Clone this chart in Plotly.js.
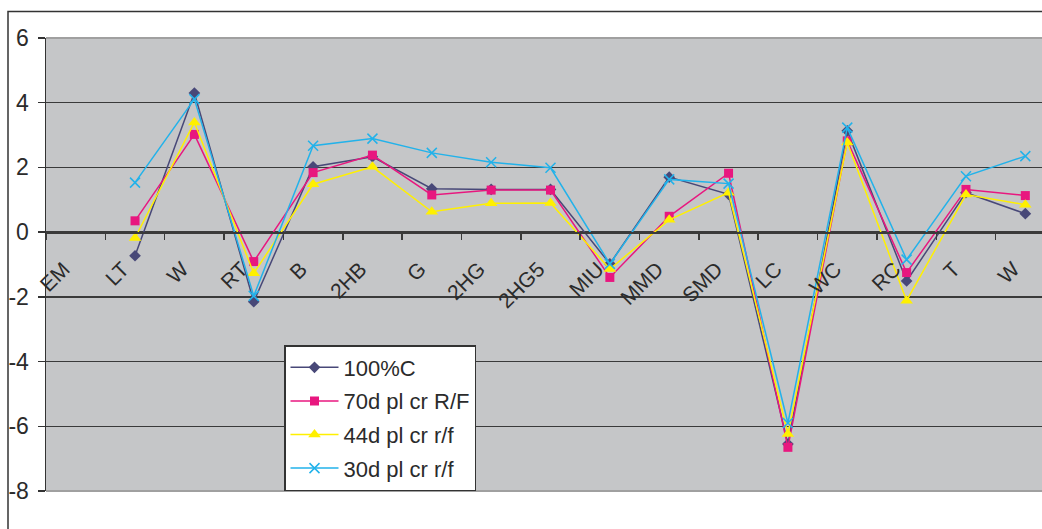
<!DOCTYPE html>
<html>
<head>
<meta charset="utf-8">
<script src="https://cdn.plot.ly/plotly-3.0.1.min.js"></script>
<style>
  html, body { margin: 0; padding: 0; background: #fff; overflow: hidden; }
  #chart { width: 1070px; height: 560px; }
</style>
</head>
<body>
<div id="chart"></div>
<script>
// Category labels along the x axis (W appears twice, so positions are used as keys)
const categories = ['EM', 'LT', 'W', 'RT', 'B', '2HB', 'G', '2HG', '2HG5', 'MIU', 'MMD', 'SMD', 'LC', 'WC', 'RC', 'T', 'W'];
const positions = categories.map((_, i) => i);

// Series values (EM has no reading)
const seriesNames = ['100%C', '70d pl cr R/F', '44d pl cr r/f', '30d pl cr r/f'];
const c100 = [null, -0.73, 4.30, -2.15, 2.02, 2.33, 1.34, 1.32, 1.32, -0.98, 1.70, 1.17, -6.55, 3.13, -1.51, 1.22, 0.57];
const d70  = [null,  0.35, 3.02, -0.91, 1.84, 2.38, 1.15, 1.30, 1.30, -1.40, 0.49, 1.82, -6.65, 2.82, -1.25, 1.32, 1.13];
const d44  = [null, -0.18, 3.39, -1.27, 1.48, 2.02, 0.63, 0.89, 0.90, -1.14, 0.38, 1.22, -6.24, 2.77, -2.12, 1.16, 0.85];
const d30  = [null,  1.53, 4.11, -1.97, 2.67, 2.89, 2.45, 2.16, 1.99, -0.98, 1.63, 1.50, -5.90, 3.23, -0.85, 1.73, 2.35];

// Y tick values and their printed labels
const yTicks = [-8, -6, -4, -2, 0, 2, 4, 6];
const yTickText = ['-8', '-6', '-4', '-2', '0', '2', '4', '6'];

const FONT = 'Liberation Sans, Arial, sans-serif';
const INK = '#2b2b2b';

const styles = [
  { color: '#484878', symbol: 'diamond', size: 9 },
  { color: '#e8177f', symbol: 'square', size: 9 },
  { color: '#fff000', symbol: 'triangle-up', size: 11 },
  { color: '#22b2ea', symbol: 'x-thin-open', size: 10 }
];
const values = [c100, d70, d44, d30];

const traces = values.map((v, i) => ({
  type: 'scatter',
  mode: 'lines+markers',
  name: seriesNames[i],
  legendgroup: 'g' + i,
  x: positions,
  y: v,
  connectgaps: false,
  line: { color: styles[i].color, width: 1.5 },
  marker: {
    symbol: styles[i].symbol,
    size: styles[i].size,
    color: styles[i].color,
    line: { color: styles[i].color, width: styles[i].symbol === 'x-thin-open' ? 1.5 : 0 }
  }
}));

// Plot area geometry in pixels
const L = 46, T = 38, PW = 1009, PH = 453;
const px = x => (x - L) / PW;
const py = y => (T + PH - y) / PH;

const layout = {
  width: 1070,
  height: 560,
  margin: { l: L, r: 1070 - L - PW, t: T, b: 560 - T - PH },
  paper_bgcolor: '#ffffff',
  plot_bgcolor: '#c5c6c8',
  font: { family: FONT, color: INK, size: 22 },
  showlegend: true,
  legend: {
    x: px(284), y: py(345), xanchor: 'left', yanchor: 'top',
    bgcolor: '#ffffff', bordercolor: '#333333', borderwidth: 1.5,
    font: { family: FONT, size: 22, color: INK },
    traceorder: 'grouped', tracegroupgap: 2,
    itemwidth: 48
  },
  xaxis: {
    type: 'category',
    range: [-0.5, 16.5],
    tickmode: 'array',
    tickvals: positions,
    ticktext: categories,
    tickson: 'boundaries',
    anchor: 'free',
    position: 8 / 14,
    showline: true, linecolor: '#3a3a3a', linewidth: 1.5,
    ticks: 'outside', ticklen: 6, tickcolor: '#3a3a3a', tickwidth: 1.5,
    showgrid: false, zeroline: false,
    tickangle: -45,
    ticklabelstandoff: 15,
    ticklabelshift: -12,
    tickfont: { family: FONT, size: 21, color: INK }
  },
  yaxis: {
    range: [-8, 6],
    tickmode: 'array',
    tickvals: yTicks,
    ticktext: yTickText,
    showgrid: true, gridcolor: '#3a3a3a', gridwidth: 1.5,
    zeroline: false,
    showline: true, linecolor: '#333333', linewidth: 1.5,
    ticks: 'outside', ticklen: 7, tickcolor: '#333333', tickwidth: 1.5,
    ticklabelstandoff: 4,
    tickfont: { family: FONT, size: 23, color: INK }
  },
  shapes: [
    // light edges of the plot area at top and bottom
    { type: 'line', xref: 'paper', yref: 'paper', x0: 0, x1: 1, y0: 1, y1: 1,
      line: { color: '#a0a0a0', width: 2 }, layer: 'above' },
    { type: 'line', xref: 'paper', yref: 'paper', x0: 0, x1: 1, y0: 0, y1: 0,
      line: { color: '#a0a0a0', width: 2 }, layer: 'above' },
    // outer chart frame
    { type: 'rect', xref: 'paper', yref: 'paper',
      x0: px(8), x1: px(1066), y0: py(552), y1: py(11.5),
      line: { color: '#333333', width: 1.5 }, fillcolor: 'rgba(0,0,0,0)', layer: 'below' }
  ]
};

Plotly.newPlot('chart', traces, layout, { staticPlot: true, displayModeBar: false });
</script>
</body>
</html>
